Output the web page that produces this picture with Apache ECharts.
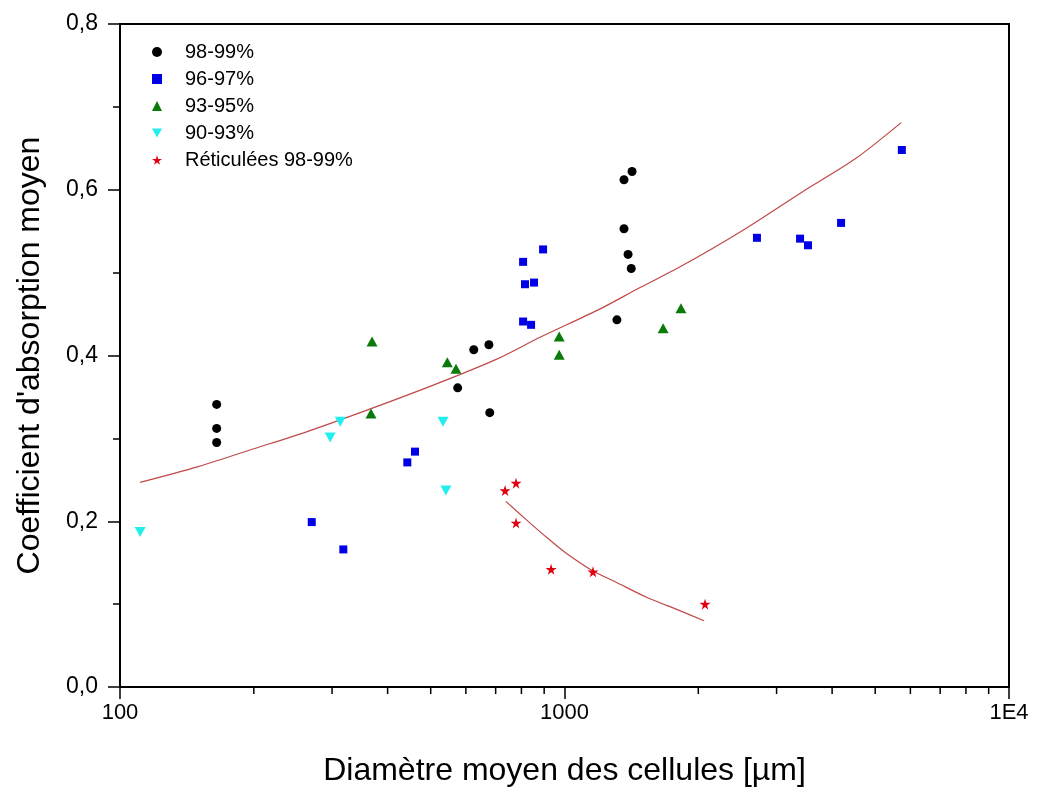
<!DOCTYPE html>
<html>
<head>
<meta charset="utf-8">
<script src="https://cdn.jsdelivr.net/npm/echarts@6/dist/echarts.min.js"></script>
<style>
html,body{margin:0;padding:0;background:#fff;}
#chart{width:1041px;height:792px;}
</style>
</head>
<body>
<div id="chart"></div>
<script>
// ---- data ----
const black98X = [165, 165, 165, 575, 625, 676, 679, 1312, 1361, 1361, 1390, 1413, 1419];
const black98Y = [0.341, 0.312, 0.295, 0.361, 0.407, 0.413, 0.331, 0.443, 0.612, 0.553, 0.522, 0.505, 0.622];

const blue96X = [270, 318, 443, 461, 807, 815, 854, 841, 807, 895, 2710, 3388, 3530, 4190, 5740];
const blue96Y = [0.199, 0.166, 0.271, 0.284, 0.513, 0.486, 0.488, 0.437, 0.441, 0.528, 0.542, 0.541, 0.533, 0.560, 0.648];

const green93X = [367, 369, 545, 570, 973, 973, 1667, 1828];
const green93Y = [0.330, 0.417, 0.392, 0.384, 0.423, 0.401, 0.433, 0.457];

const cyan90X = [111, 297, 313, 533, 541];
const cyan90Y = [0.187, 0.301, 0.320, 0.320, 0.237];

const redX = [735, 778, 778, 933, 1159, 2071];
const redY = [0.237, 0.246, 0.198, 0.142, 0.139, 0.100];

// fitted curves
const fitMainX = [111, 150, 196, 260, 347, 500, 700, 881, 1200, 1479, 1820, 2500, 3441, 4500, 5720];
const fitMainY = [0.247, 0.266, 0.286, 0.307, 0.331, 0.363, 0.395, 0.422, 0.456, 0.482, 0.507, 0.550, 0.598, 0.637, 0.681];

const fitRedX = [738, 820, 914, 1000, 1159, 1300, 1534, 1800, 2061];
const fitRedY = [0.224, 0.202, 0.180, 0.163, 0.140, 0.127, 0.108, 0.093, 0.080];

const seriesNames = ['98-99%', '96-97%', '93-95%', '90-93%', 'Réticulées 98-99%'];
const xMinorTicks = [200, 300, 400, 500, 600, 700, 800, 900, 2000, 3000, 4000, 5000, 6000, 7000, 8000, 9000];

// ---- chart ----
const zip = (xs, ys) => xs.map((x, i) => [x, ys[i]]);
const FONT = '"Liberation Sans", Arial, sans-serif';
const starPath = 'path://M50,0 L61,35 L98,35 L68,57 L79,91 L50,70 L21,91 L32,57 L2,35 L39,35 Z';
const downTriPath = 'path://M0,0 L11,0 L5.5,10 Z';

const chart = echarts.init(document.getElementById('chart'), null, {renderer: 'canvas'});
const option = {
  backgroundColor: '#fff',
  animation: false,
  textStyle: {fontFamily: FONT},
  grid: {left: 120, right: 32, top: 24, bottom: 104, show: true, borderColor: '#000', borderWidth: 2, backgroundColor: 'transparent'},
  legend: {
    data: [
      {name: seriesNames[0]},
      {name: seriesNames[1]},
      {name: seriesNames[2]},
      {name: seriesNames[3], icon: downTriPath},
      {name: seriesNames[4]}
    ],
    orient: 'vertical',
    left: 147,
    top: 37,
    itemWidth: 10,
    itemHeight: 10,
    itemGap: 7,
    textStyle: {fontFamily: FONT, fontSize: 20, color: '#000', lineHeight: 20, padding: [0, 0, 0, 18]},
    selectedMode: false
  },
  xAxis: {
    type: 'log',
    logBase: 10,
    min: 100,
    max: 10000,
    name: 'Diamètre moyen des cellules [µm]',
    nameLocation: 'middle',
    nameGap: 68,
    nameTextStyle: {fontFamily: FONT, fontSize: 32, color: '#000'},
    axisLine: {show: true, lineStyle: {color: '#000', width: 2}},
    axisTick: {show: true, length: 12, lineStyle: {color: '#000', width: 1.5}},
    axisLabel: {
      fontFamily: FONT, fontSize: 22, color: '#000', margin: 15,
      formatter: v => (Math.abs(v - 10000) < 1e-6 ? '1E4' : String(Math.round(v)))
    },
    splitLine: {show: false}
  },
  yAxis: {
    type: 'value',
    min: 0,
    max: 0.8,
    interval: 0.2,
    name: "Coefficient d'absorption moyen",
    nameLocation: 'middle',
    nameGap: 74,
    nameRotate: 90,
    nameTextStyle: {fontFamily: FONT, fontSize: 32, color: '#000'},
    axisLine: {show: true, lineStyle: {color: '#000', width: 2}},
    axisTick: {show: true, length: 12, lineStyle: {color: '#000', width: 1.5}},
    minorTick: {show: true, splitNumber: 2, length: 7, lineStyle: {color: '#000', width: 1.5}},
    axisLabel: {
      fontFamily: FONT, fontSize: 23, color: '#000', margin: 22,
      formatter: v => v.toFixed(1).replace('.', ',')
    },
    splitLine: {show: false}
  },
  series: [
    {name: 'fitMain', type: 'line', data: zip(fitMainX, fitMainY), smooth: 0.3, showSymbol: false,
     lineStyle: {color: '#c04848', width: 1.2}, z: 1, silent: true},
    {name: 'fitRed', type: 'line', data: zip(fitRedX, fitRedY), smooth: 0.3, showSymbol: false,
     lineStyle: {color: '#c04848', width: 1.2}, z: 1, silent: true},
    {name: seriesNames[0], type: 'scatter', data: zip(black98X, black98Y), symbol: 'circle', symbolSize: 9,
     itemStyle: {color: '#000000', opacity: 1}, z: 3},
    {name: seriesNames[1], type: 'scatter', data: zip(blue96X, blue96Y), symbol: 'rect', symbolSize: 8,
     itemStyle: {color: '#0000e6', opacity: 1}, z: 3},
    {name: seriesNames[2], type: 'scatter', data: zip(green93X, green93Y), symbol: 'triangle', symbolSize: [11, 10],
     itemStyle: {color: '#0a7a0a', opacity: 1}, z: 3},
    {name: seriesNames[3], type: 'scatter', data: zip(cyan90X, cyan90Y), symbol: 'triangle', symbolRotate: 180, symbolSize: [11, 10],
     itemStyle: {color: '#22eeee', opacity: 1}, z: 3},
    {name: seriesNames[4], type: 'scatter', data: zip(redX, redY), symbol: starPath, symbolSize: 11,
     itemStyle: {color: '#e00010', opacity: 1}, z: 3}
  ]
};
chart.setOption(option);

// minor ticks on the log x axis (200..900, 2000..9000), positioned through the axis scale
const y0 = chart.convertToPixel({yAxisIndex: 0}, 0);
const minorGraphics = xMinorTicks.map(v => {
  const px = chart.convertToPixel({xAxisIndex: 0}, v);
  return {type: 'line', shape: {x1: px, y1: y0, x2: px, y2: y0 + 7}, style: {stroke: '#000', lineWidth: 1.5}, silent: true};
});
chart.setOption({graphic: minorGraphics});
</script>
</body>
</html>
